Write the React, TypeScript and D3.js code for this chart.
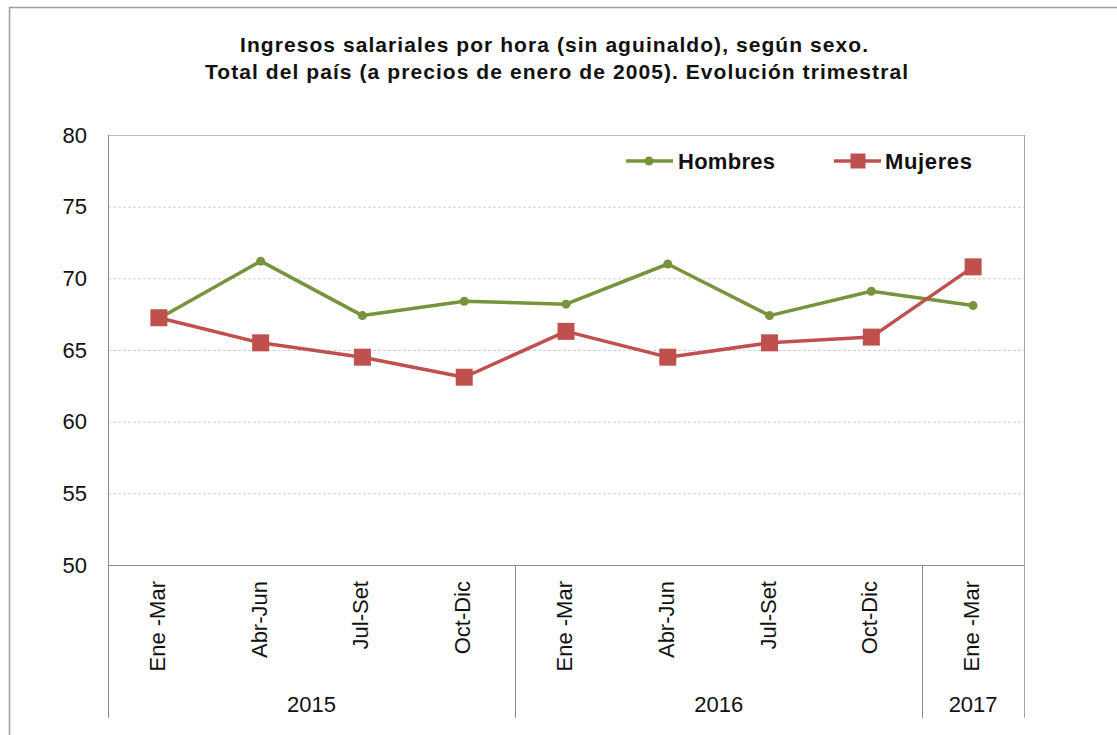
import React, { useEffect, useRef } from 'react';
import * as d3 from 'd3';

const categories = ['Ene -Mar', 'Abr-Jun', 'Jul-Set', 'Oct-Dic', 'Ene -Mar', 'Abr-Jun', 'Jul-Set', 'Oct-Dic', 'Ene -Mar'];
const years = [
  { label: '2015', span: 4 },
  { label: '2016', span: 4 },
  { label: '2017', span: 1 },
];
const hombres = [67.2, 71.2, 67.4, 68.4, 68.2, 71.0, 67.4, 69.1, 68.1];
const mujeres = [67.25, 65.5, 64.5, 63.1, 66.3, 64.5, 65.5, 65.9, 70.8];
const yTicks = [50, 55, 60, 65, 70, 75, 80];

const W = 1117;
const H = 735;
const FONT = '"Liberation Sans", Arial, sans-serif';
const GREEN = '#77933C';
const RED = '#C0504D';

export default function App() {
  const ref = useRef<SVGSVGElement>(null);

  useEffect(() => {
    const svg = d3.select(ref.current);
    svg.selectAll('*').remove();

    const left = 108, right = 1024, top = 135, bottom = 565, axisBottom = 718;

    svg.append('rect').attr('x', 0).attr('y', 0).attr('width', W).attr('height', H).attr('fill', '#fff');
    // outer chart border
    svg.append('rect')
      .attr('x', 9.5).attr('y', 7.5).attr('width', W + 20).attr('height', H)
      .attr('fill', 'none').attr('stroke', '#a0a0a0').attr('stroke-width', 1.5);

    const x = d3.scaleBand<number>()
      .domain(categories.map((_, i) => i))
      .range([left, right]);
    const y = d3.scaleLinear().domain([50, 80]).range([bottom, top]);

    // title
    const title = svg.append('g')
      .attr('font-family', FONT).attr('font-weight', 'bold').attr('font-size', 21)
      .attr('fill', '#111');
    title.append('text').attr('x', 240).attr('y', 52).attr('textLength', 628)
      .text('Ingresos salariales  por hora (sin aguinaldo), según sexo.');
    title.append('text').attr('x', 205).attr('y', 79).attr('textLength', 703)
      .text('Total del país (a precios de enero de 2005). Evolución  trimestral');

    // gridlines
    svg.append('g').selectAll('line')
      .data(yTicks.filter(t => t > 50 && t < 80))
      .enter().append('line')
      .attr('x1', left).attr('x2', right)
      .attr('y1', d => y(d) + 0.5).attr('y2', d => y(d) + 0.5)
      .attr('stroke', '#d0d0d0').attr('stroke-dasharray', '3,2');

    // plot border top and right
    svg.append('line').attr('x1', left).attr('x2', right + 0.5).attr('y1', top + 0.5).attr('y2', top + 0.5).attr('stroke', '#bfbfbf');
    svg.append('line').attr('x1', right + 0.5).attr('x2', right + 0.5).attr('y1', top).attr('y2', axisBottom).attr('stroke', '#a6a6a6');

    // y axis
    svg.append('line').attr('x1', left + 0.5).attr('x2', left + 0.5).attr('y1', top).attr('y2', axisBottom).attr('stroke', '#8c8c8c');
    svg.append('g').selectAll('text')
      .data(yTicks).enter().append('text')
      .attr('x', 87).attr('y', d => y(d))
      .attr('dy', '0.35em')
      .attr('text-anchor', 'end')
      .attr('font-family', FONT).attr('font-size', 22).attr('fill', '#111')
      .text(d => d);

    // x axis baseline
    svg.append('line').attr('x1', left).attr('x2', right).attr('y1', bottom + 0.5).attr('y2', bottom + 0.5).attr('stroke', '#8c8c8c');

    // year separators and labels
    let start = 0;
    years.forEach((yr, i) => {
      const x0 = x(start)!;
      const x1 = x(start + yr.span - 1)! + x.bandwidth();
      if (i > 0) {
        svg.append('line').attr('x1', Math.round(x0) + 0.5).attr('x2', Math.round(x0) + 0.5)
          .attr('y1', bottom).attr('y2', axisBottom).attr('stroke', '#8c8c8c');
      }
      svg.append('text')
        .attr('x', (x0 + x1) / 2).attr('y', 712)
        .attr('text-anchor', 'middle')
        .attr('font-family', FONT).attr('font-size', 22).attr('fill', '#111')
        .text(yr.label);
      start += yr.span;
    });

    // category labels
    svg.append('g').selectAll('text')
      .data(categories).enter().append('text')
      .attr('transform', (_, i) => `translate(${x(i)! + x.bandwidth() / 2 + 6},581) rotate(-90)`)
      .attr('text-anchor', 'end')
      .attr('font-family', FONT).attr('font-size', 22).attr('fill', '#111')
      .text(d => d);

    const line = d3.line<number>()
      .x((_, i) => x(i)! + x.bandwidth() / 2)
      .y(d => y(d));

    // Hombres
    svg.append('path').datum(hombres).attr('d', line)
      .attr('fill', 'none').attr('stroke', GREEN).attr('stroke-width', 3.5).attr('stroke-linejoin', 'round');
    svg.append('g').selectAll('circle')
      .data(hombres).enter().append('circle')
      .attr('cx', (_, i) => x(i)! + x.bandwidth() / 2)
      .attr('cy', d => y(d))
      .attr('r', 4.5).attr('fill', GREEN);

    // Mujeres
    svg.append('path').datum(mujeres).attr('d', line)
      .attr('fill', 'none').attr('stroke', RED).attr('stroke-width', 3.5).attr('stroke-linejoin', 'round');
    const sq = 17;
    svg.append('g').selectAll('rect')
      .data(mujeres).enter().append('rect')
      .attr('x', (_, i) => x(i)! + x.bandwidth() / 2 - sq / 2)
      .attr('y', d => y(d) - sq / 2)
      .attr('width', sq).attr('height', sq)
      .attr('fill', RED);

    // legend
    const legend = svg.append('g').attr('font-family', FONT).attr('font-weight', 'bold').attr('font-size', 22).attr('fill', '#111');
    const ly = 161;
    legend.append('line').attr('x1', 626).attr('x2', 673).attr('y1', ly).attr('y2', ly).attr('stroke', GREEN).attr('stroke-width', 3.5);
    legend.append('circle').attr('cx', 649).attr('cy', ly).attr('r', 4.5).attr('fill', GREEN);
    legend.append('text').attr('x', 678).attr('y', ly).attr('dy', '0.35em').attr('textLength', 97).text('Hombres');
    legend.append('line').attr('x1', 834).attr('x2', 881).attr('y1', ly).attr('y2', ly).attr('stroke', RED).attr('stroke-width', 3.5);
    legend.append('rect').attr('x', 858 - 7.5).attr('y', ly - 7.5).attr('width', 15).attr('height', 15).attr('fill', RED);
    legend.append('text').attr('x', 885).attr('y', ly).attr('dy', '0.35em').attr('textLength', 87).text('Mujeres');
  }, []);

  return (
    <svg ref={ref} width={W} height={H} style={{ position: 'absolute', left: 0, top: 0, display: 'block' }} />
  );
}
